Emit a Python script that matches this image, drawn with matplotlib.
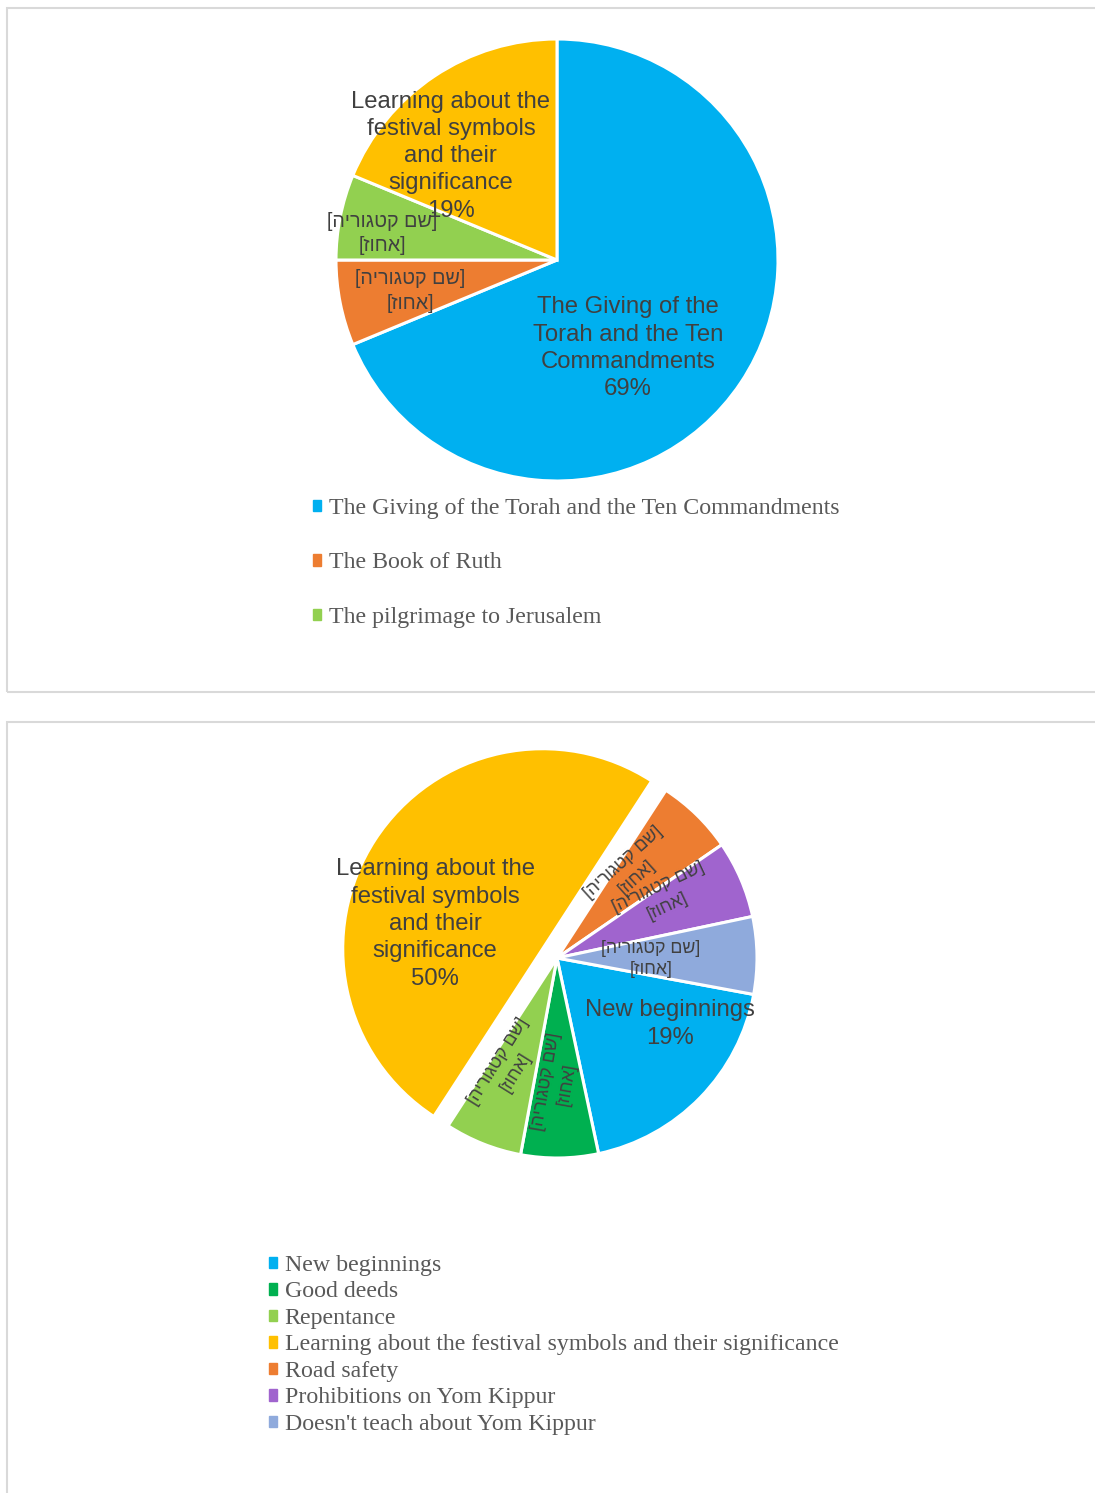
import matplotlib
matplotlib.use("Agg")
import matplotlib.pyplot as plt
from matplotlib.patches import Patch, Rectangle

# ---- data ----
top_names = ["The Giving of the Torah and the Ten Commandments",
             "The Book of Ruth",
             "The pilgrimage to Jerusalem",
             "Learning about the festival symbols and their significance"]
top_counts = [11, 1, 1, 3]
top_colors = ["#00B0F0", "#ED7D31", "#92D050", "#FFC000"]

bot_names = ["New beginnings", "Good deeds", "Repentance",
             "Learning about the festival symbols and their significance",
             "Road safety", "Prohibitions on Yom Kippur",
             "Doesn't teach about Yom Kippur"]
bot_counts = [3, 1, 1, 8, 1, 1, 1]
bot_colors = ["#00B0F0", "#00B050", "#92D050", "#FFC000",
              "#ED7D31", "#A064CE", "#8FAADC"]
bot_explode = [0, 0, 0, 0.085, 0, 0, 0]

# Excel placeholder labels (Hebrew), reversed into visual order for drawing
he_name = "שם קטגוריה"
he_pct = "אחוז"
placeholder = "[" + he_name[::-1] + "]\n[" + he_pct[::-1] + "]"

# label text wrapping as in the original chart
top_wrapped = {0: "The Giving of the\nTorah and the Ten\nCommandments",
               3: "Learning about the\nfestival symbols\nand their\nsignificance"}
bot_wrapped = {0: "New beginnings",
               3: "Learning about the\nfestival symbols\nand their\nsignificance"}

# label placement (in pie radius units) and rotation
top_label_pos = [(0.32, -0.40), (-0.665, -0.14), (-0.79, 0.12), (-0.48, 0.47)]
bot_label_pos = [(0.565, -0.33), (0.0, -0.625), (-0.25, -0.545), (-0.61, 0.17),
                 (0.365, 0.44), (0.53, 0.305), (0.47, -0.005)]
bot_label_rot = [0, 80, 58, 0, 42, 25, 0]

W, H = 1095, 1493
SANS = ["Liberation Sans", "DejaVu Sans"]
SERIF = ["Liberation Serif", "DejaVu Serif"]
LABEL_C = "#404040"
LEGEND_C = "#595959"

fig = plt.figure(figsize=(W / 100, H / 100), dpi=100)
fig.patch.set_facecolor("white")

# panel borders
fig.patches.append(Rectangle((7 / W, 1 - 692 / H), 1.2, (692 - 8) / H,
                             transform=fig.transFigure, fill=False,
                             edgecolor="#d9d9d9", lw=1.5))
fig.patches.append(Rectangle((7 / W, -0.1), 1.2, 0.1 + 1 - 722 / H,
                             transform=fig.transFigure, fill=False,
                             edgecolor="#d9d9d9", lw=1.5))


def pie_axes(cx, cy, r, lim=1.3):
    half = lim * r
    ax = fig.add_axes([(cx - half) / W, 1 - (cy + half) / H, 2 * half / W, 2 * half / H])
    return ax


def labels_for(names, counts, wrapped):
    total = sum(counts)
    out = []
    for i, c in enumerate(counts):
        if i in wrapped:
            out.append(f"{wrapped[i]}\n{100 * c / total:.0f}%")
        else:
            out.append(placeholder)
    return out


# ---- top pie ----
ax1 = pie_axes(557, 260, 221)
ax1.pie(top_counts, colors=top_colors, startangle=90, counterclock=False,
        wedgeprops=dict(edgecolor="white", linewidth=2.2))
ax1.set_xlim(-1.3, 1.3)
ax1.set_ylim(-1.3, 1.3)
for i, txt in enumerate(labels_for(top_names, top_counts, top_wrapped)):
    big = i in top_wrapped
    ax1.text(*top_label_pos[i], txt, ha="center", va="center", color=LABEL_C,
             family=SANS, fontsize=17.2 if big else 14.2, linespacing=1.31 if big else 1.36)

h1 = [Patch(color=c) for c in top_colors[:3]]
ax1.legend(h1, top_names[:3], loc="upper left", bbox_to_anchor=(313 / W, 1 - 498 / H),
           bbox_transform=fig.transFigure, frameon=False, borderpad=0, borderaxespad=0,
           handlelength=0.35, handleheight=0.35, handletextpad=0.3, labelspacing=1.4,
           prop=dict(family=SERIF, size=17.2), labelcolor=LEGEND_C)

# ---- bottom pie ----
ax2 = pie_axes(557, 958, 200)
ax2.pie(bot_counts, colors=bot_colors, startangle=-10.5, counterclock=False,
        explode=bot_explode, wedgeprops=dict(edgecolor="white", linewidth=2.2))
ax2.set_xlim(-1.3, 1.3)
ax2.set_ylim(-1.3, 1.3)
for i, txt in enumerate(labels_for(bot_names, bot_counts, bot_wrapped)):
    big = i in bot_wrapped
    ax2.text(*bot_label_pos[i], txt, ha="center", va="center", color=LABEL_C,
             family=SANS, fontsize=17.2 if big else 12.8, rotation=bot_label_rot[i],
             rotation_mode="anchor", linespacing=1.31 if big else 1.3)

h2 = [Patch(color=c) for c in bot_colors]
ax2.legend(h2, bot_names, loc="upper left", bbox_to_anchor=(269 / W, 1 - 1255 / H),
           bbox_transform=fig.transFigure, frameon=False, borderpad=0, borderaxespad=0,
           handlelength=0.35, handleheight=0.35, handletextpad=0.3, labelspacing=0.23,
           prop=dict(family=SERIF, size=17.2), labelcolor=LEGEND_C)

fig.savefig("out.png", dpi=100, facecolor="white")
